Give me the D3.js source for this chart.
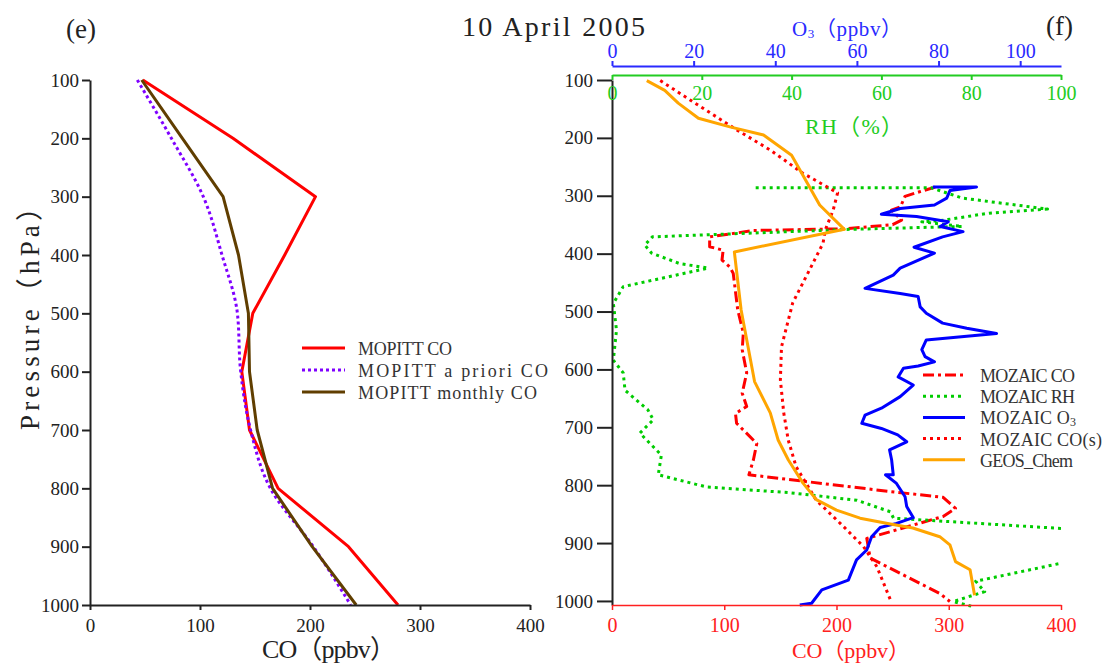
<!DOCTYPE html>
<html>
<head>
<meta charset="utf-8">
<script src="https://cdn.jsdelivr.net/npm/d3@7"></script>
<style>
	body { margin: 0; background: #fff; }
</style>
</head>
<body>
<svg id="chart" width="1108" height="664"></svg>
<script>
const FONT = "'Liberation Serif', 'Noto Sans CJK SC', serif";

// shared ticks
const pressureTicks = [100, 200, 300, 400, 500, 600, 700, 800, 900, 1000];
const coTicks = [0, 100, 200, 300, 400];
const rhTicks = [0, 20, 40, 60, 80, 100];
const o3Ticks = [0, 20, 40, 60, 80, 100];

// (e) MOPITT profiles on retrieval levels
const mopittLevels = [100, 200, 300, 400, 500, 600, 700, 800, 900, 1000];
const mopittCO = [48, 130, 205, 177, 148, 138, 145, 171, 235, 280];
const mopittPrior = [43, 74, 103, 120, 134, 137, 146, 164, 203, 237];
const mopittMonthly = [47, 84, 121, 135, 144, 145, 152, 166, 202, 242];
const leftLegend = ['MOPITT CO', 'MOPITT a priori CO', 'MOPITT monthly CO'];

// (f) MOZAIC descent and GEOS-Chem
const mozCOp = [285, 293, 301, 319, 325, 342, 350, 357, 360, 371, 388, 394, 411, 423, 434, 497, 537, 566, 606, 641, 664, 676, 693, 728, 756, 782, 811, 821, 840, 854, 892, 926, 987, 1001];
const mozCO = [288, 274, 261, 257, 249, 258, 250, 207, 126, 87, 87, 99, 98, 105, 108, 112, 117, 116, 120, 116, 120, 110, 111, 129, 126, 122, 248, 295, 306, 295, 227, 230, 292, 301];

const mozRHp = [286, 286, 304, 323, 330, 342, 345, 353, 358, 371, 385, 399, 417, 425, 457, 486, 532, 584, 606, 636, 670, 687, 710, 748, 782, 803, 813, 826, 846, 857, 875, 905, 934, 966, 984, 1001, 1009];
const mozRH = [32, 71, 78, 97, 84, 74, 69, 78, 53, 9, 7.3, 8.8, 15, 21.4, 2.5, 0.3, 1, 0.3, 2.5, 2.9, 8, 9.2, 6.2, 11, 10.3, 21, 39.6, 54.5, 62, 62.7, 100.5, 112, 100.5, 81, 83, 76, 80];

const mozO3p = [285, 285, 291, 304, 316, 322, 332, 336, 345, 353, 362, 371, 389, 399, 425, 437, 460, 469, 474, 492, 503, 520, 529, 538, 549, 566, 578, 587, 594, 598, 613, 627, 647, 667, 679, 693, 702, 713, 725, 739, 756, 782, 782, 797, 820, 837, 856, 866, 873, 889, 912, 929, 964, 981, 1004, 1007];
const mozO3 = [78.6, 89.3, 82.8, 82, 79, 70.6, 66, 74.6, 82.4, 80.4, 86, 81, 74, 79, 70.6, 68.9, 62, 70.6, 75, 75.5, 77, 81, 86.9, 94.2, 77, 75.9, 76.7, 79, 75, 71.4, 70.1, 73.8, 70.6, 66, 62, 61.2, 66, 70, 72.2, 68, 68.5, 68.9, 67, 69.7, 71.8, 72.2, 73.8, 69.7, 65.7, 63.6, 62.4, 59.9, 57.9, 51.4, 48.9, 46];

const mozCOsp = [101, 135, 186, 221, 261, 284, 295, 325, 359, 382, 428, 485, 561, 618, 675, 722, 768, 826, 871, 906, 941, 998];
const mozCOs = [43, 70, 111, 141, 170, 191, 201, 197, 190, 188, 176, 161, 151, 150, 153, 157, 164, 182, 206, 224, 236, 248];

const geosP = [101, 118, 140, 166, 181, 195, 230, 316, 358, 397, 497, 621, 675, 722, 756, 796, 825, 843, 857, 867, 874, 889, 903, 932, 946, 990];
const geosCO = [31, 47, 59, 77, 105, 135, 160, 185, 207, 109, 115, 127, 141, 148, 157, 170, 182, 200, 221, 248, 268, 292, 301, 306, 319, 323];
const rightLegend = ['MOZAIC CO', 'MOZAIC RH', 'MOZAIC O3', 'MOZAIC CO(s)', 'GEOS_Chem'];

const svg = d3.select('#chart');

// stretch text to the width it takes in the figure (mono-like font there)
const fitText = (sel, width) => {
	sel.each(function() {
		const n = this.textContent.length;
		const len = this.getComputedTextLength();
		d3.select(this).attr('letter-spacing', (width - len) / Math.max(n - 1, 1));
	});
};

const label = (x, y, txt, size, color, width) => {
	const t = svg.append('text')
		.attr('x', x)
		.attr('y', y)
		.attr('fill', color)
		.style('font-family', FONT)
		.style('font-size', size + 'px')
		.text(txt);
	if (width) fitText(t, width);
	return t;
};

const styleAxis = (g, color, size) => {
	g.attr('font-family', FONT).attr('font-size', size);
	g.selectAll('path, line').attr('stroke', color).attr('stroke-width', 2);
	g.selectAll('text').attr('fill', color);
};

const profile = (g, xs, ys, ps, vs, color, dash, curve) => {
	g.append('path')
		.datum(d3.zip(ps, vs))
		.attr('fill', 'none')
		.attr('stroke', color)
		.attr('stroke-width', 3)
		.attr('stroke-dasharray', dash)
		.attr('stroke-linejoin', 'round')
		.attr('d', d3.line()
			.x(d => xs(d[1]))
			.y(d => ys(d[0]))
			.curve(curve || d3.curveLinear));
};

// ---------- panel (e) ----------
const xL = d3.scaleLinear().domain([0, 400]).range([90, 530]);
const yL = d3.scaleLinear().domain([100, 1000]).range([80, 605]);

const gL = svg.append('g');
profile(gL, xL, yL, mopittLevels, mopittCO, '#ff0000', null);
profile(gL, xL, yL, mopittLevels, mopittPrior, '#7f00ff', '3,3', d3.curveMonotoneY);
profile(gL, xL, yL, mopittLevels, mopittMonthly, '#603e00', null);

svg.append('g')
	.attr('transform', 'translate(90,0)')
	.call(d3.axisLeft(yL).tickValues(pressureTicks).tickFormat(d3.format('d'))
		.tickSize(8).tickSizeOuter(0).tickPadding(3))
	.call(g => styleAxis(g, '#222', 19));

svg.append('g')
	.attr('transform', 'translate(0,605)')
	.call(d3.axisBottom(xL).tickValues(coTicks).tickSize(5).tickSizeOuter(0).tickPadding(9))
	.call(g => styleAxis(g, '#222', 19));

const leftColors = ['#ff0000', '#7f00ff', '#603e00'];
const leftDash = [null, '3,3', null];
const leftWidths = [94, 190, 179];
leftLegend.forEach((name, i) => {
	const ly = 348 + i * 22;
	svg.append('line')
		.attr('x1', 302).attr('x2', 345)
		.attr('y1', ly).attr('y2', ly)
		.attr('stroke', leftColors[i])
		.attr('stroke-width', 3)
		.attr('stroke-dasharray', leftDash[i]);
	label(358, ly + 7, name, 18, '#333', leftWidths[i]);
});

svg.append('text')
	.attr('transform', 'translate(39,430) rotate(-90)')
	.attr('fill', '#222')
	.style('font-family', FONT)
	.style('font-size', '27px')
	.text('Pressure（hPa）')
	.call(t => fitText(t, 236));

label(262, 658, 'CO（ppbv）', 26, '#222', 134);
label(66, 38, '(e)', 27, '#222');
label(462, 36, '10 April 2005', 28, '#222', 183);
label(1046, 35, '(f)', 27, '#222');

// ---------- panel (f) ----------
const xCO = d3.scaleLinear().domain([0, 400]).range([612, 1061]);
const xRH = d3.scaleLinear().domain([0, 100]).range([612, 1061]);
const xO3 = d3.scaleLinear().domain([0, 110]).range([612, 1061]);
const yR = d3.scaleLinear().domain([100, 1007]).range([80, 605]);

svg.append('defs').append('clipPath')
	.attr('id', 'clipR')
	.append('rect')
	.attr('x', 612).attr('y', 0)
	.attr('width', 449).attr('height', 664);

const gR = svg.append('g').attr('clip-path', 'url(#clipR)');
profile(gR, xCO, yR, mozCOp, mozCO, '#ff0000', '11,4,3,4');
profile(gR, xRH, yR, mozRHp, mozRH, '#00cc00', '3,4');
profile(gR, xO3, yR, mozO3p, mozO3, '#0000ff', null);
profile(gR, xCO, yR, mozCOsp, mozCOs, '#ff0000', '3,4');
profile(gR, xCO, yR, geosP, geosCO, '#ffa500', null);

svg.append('g')
	.attr('transform', 'translate(612,0)')
	.call(d3.axisLeft(yR).tickValues(pressureTicks).tickFormat(d3.format('d'))
		.tickSize(15).tickSizeOuter(0).tickPadding(4))
	.call(g => styleAxis(g, '#222', 19));

svg.append('g')
	.attr('transform', 'translate(0,605)')
	.call(d3.axisBottom(xCO).tickValues(coTicks).tickSize(5).tickSizeOuter(0).tickPadding(8))
	.call(g => styleAxis(g, '#ff2020', 20))
	.call(g => g.selectAll('path, line').attr('stroke-width', 1.5));

svg.append('g')
	.attr('transform', 'translate(0,75)')
	.call(d3.axisBottom(xRH).tickValues(rhTicks).tickSize(5).tickSizeOuter(0).tickPadding(6))
	.call(g => styleAxis(g, '#22cc22', 20));

svg.append('g')
	.attr('transform', 'translate(0,66)')
	.call(d3.axisTop(xO3).tickValues(o3Ticks).tickSize(5).tickSizeOuter(0).tickPadding(3))
	.call(g => styleAxis(g, '#2a2aff', 20));

// axis titles with the small subscript
const o3Title = svg.append('text')
	.attr('x', 792).attr('y', 36)
	.attr('fill', '#2a2aff')
	.style('font-family', FONT)
	.style('font-size', '21px');
o3Title.append('tspan').text('O');
o3Title.append('tspan').attr('font-size', 13).attr('dy', 2).text('3');
o3Title.append('tspan').attr('dy', -2).text('（ppbv）');
fitText(o3Title, 110);

label(805, 134, 'RH（%）', 22, '#22cc22', 98);
label(792, 658, 'CO（ppbv）', 22, '#ff2020', 118);

const rightColors = ['#ff0000', '#00cc00', '#0000ff', '#ff0000', '#ffa500'];
const rightDash = ['11,4,3,4', '3,4', null, '3,4', null];
const rightWidths = [95, 95, 96, 122, 93];
rightLegend.forEach((name, i) => {
	const ly = 375 + i * 21.2;
	svg.append('line')
		.attr('x1', 923).attr('x2', 965)
		.attr('y1', ly).attr('y2', ly)
		.attr('stroke', rightColors[i])
		.attr('stroke-width', 3)
		.attr('stroke-dasharray', rightDash[i]);
	const t = svg.append('text')
		.attr('x', 980).attr('y', ly + 7)
		.attr('fill', '#333')
		.style('font-family', FONT)
		.style('font-size', '18px');
	if (name.endsWith('O3')) {
		t.append('tspan').text(name.slice(0, -1));
		t.append('tspan').attr('font-size', 12).attr('dy', 2).text('3');
	} else {
		t.text(name);
	}
	fitText(t, rightWidths[i]);
});
</script>
</body>
</html>
